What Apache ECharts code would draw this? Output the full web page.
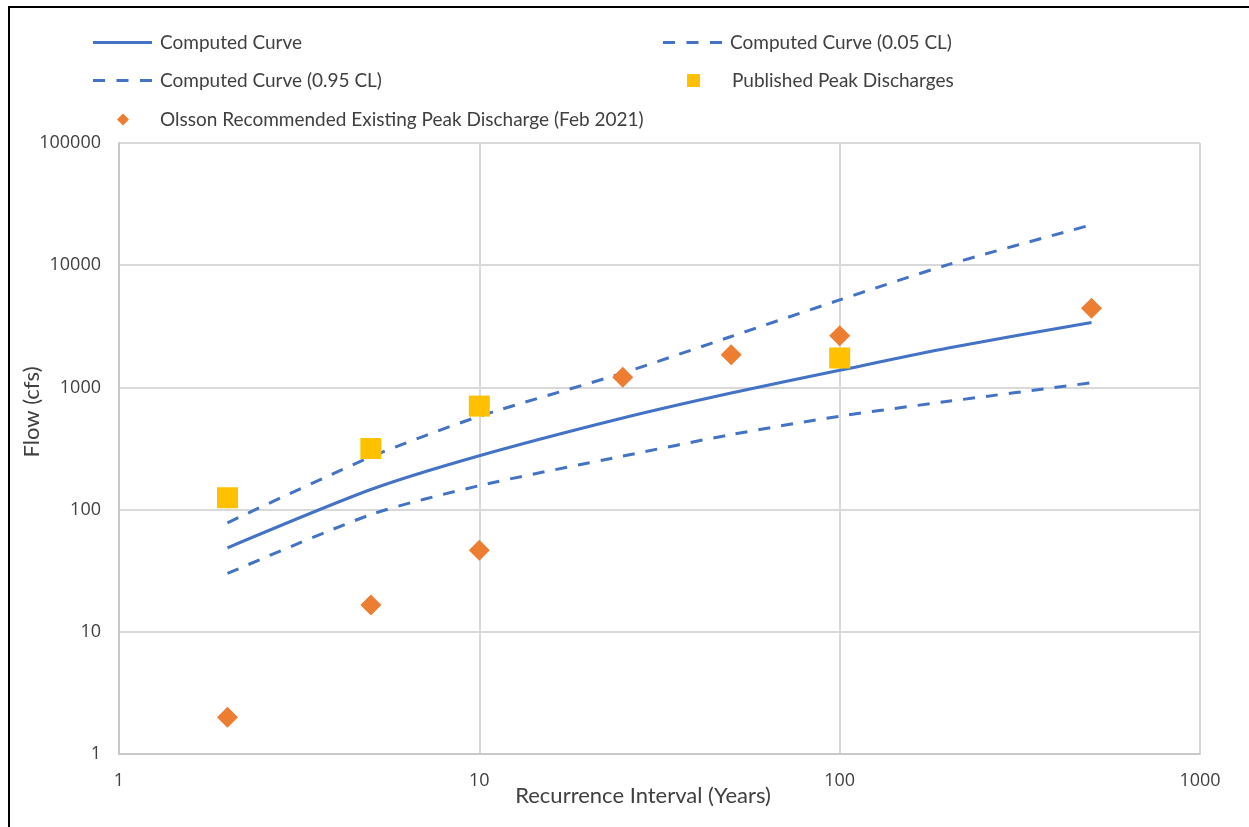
<!DOCTYPE html>
<html>
<head>
<meta charset="utf-8">
<script src="https://cdn.jsdelivr.net/npm/echarts@6/dist/echarts.min.js"></script>
<style>
html,body{margin:0;padding:0;background:#fff;}
#wrap{position:relative;width:1249px;height:827px;overflow:hidden;}
#frame{position:absolute;left:8px;top:6px;width:1260px;height:840px;border-left:2px solid #000;border-top:2px solid #000;pointer-events:none;z-index:2;}
#chart{position:absolute;left:0;top:0;width:1249px;height:827px;}
</style>
</head>
<body>
<div id="wrap"><div id="chart"></div><div id="frame"></div></div>
<script>
// Recurrence intervals (years) for the computed curves
const years = [2, 5, 10, 25, 50, 100, 200, 500];
const computedCurve = [48.7, 146, 276, 562, 900, 1380, 2100, 3400];
const curve005 = [78, 270, 580, 1310, 2610, 5200, 10100, 21400];
const curve095 = [30, 91, 157, 274, 411, 581, 769, 1090];
// Published peak discharges
const publishedYears = [2, 5, 10, 100];
const publishedFlow = [125, 316, 703, 1740];
// Olsson recommended existing peak discharge (Feb 2021)
const olssonYears = [2, 5, 10, 25, 50, 100, 500];
const olssonFlow = [2, 16.6, 46.4, 1210, 1850, 2650, 4450];
// Axis ranges and titles
const xRange = [1, 1000];
const yRange = [1, 100000];
const xTitle = 'Recurrence Interval (Years)';
const yTitle = 'Flow (cfs)';
const seriesNames = ['Computed Curve', 'Computed Curve (0.05 CL)', 'Computed Curve (0.95 CL)', 'Published Peak Discharges', 'Olsson Recommended Existing Peak Discharge (Feb 2021)'];

const pair = (xs, ys) => xs.map((x, i) => [x, ys[i]]);
const FONT = 'Lato';
const BLUE = '#4472C4';
const TXT = '#404040';
const ICON_SOLID = 'path://M0,0H59V3H0Z';
const ICON_DASH = 'path://M0,0H12V3H0Z M23.5,0H35.5V3H23.5Z M47,0H59V3H47Z';
function leg(name, icon, left, top, w, h, pad) {
  return {data: [{name: name, icon: icon}], left: left, top: top, itemWidth: w, itemHeight: h,
    itemGap: 0, padding: 0, symbolKeepAspect: true, selectedMode: false,
    textStyle: {color: TXT, fontSize: 19, fontFamily: FONT, padding: [0, 0, 0, pad]}};
}

const chart = echarts.init(document.getElementById('chart'), null, {renderer: 'canvas'});
chart.setOption({
  animation: false,
  backgroundColor: '#fff',
  legend: [
    leg(seriesNames[0], ICON_SOLID, 93, 33, 59, 18, 3),
    leg(seriesNames[1], ICON_DASH, 663, 33, 59, 18, 3),
    leg(seriesNames[2], ICON_DASH, 93, 71, 59, 18, 3),
    leg(seriesNames[3], 'rect', 687, 71, 13, 13, 27),
    leg(seriesNames[4], 'diamond', 117, 110, 12, 12, 26)
  ],
  graphic: [
    {type: 'text', x: 643, y: 796, silent: true,
      style: {text: xTitle, fill: TXT, font: '22px Lato', textAlign: 'center', textVerticalAlign: 'middle'}},
    {type: 'text', x: 32, y: 412, rotation: Math.PI / 2, silent: true,
      style: {text: yTitle, fill: TXT, font: '22px Lato', textAlign: 'center', textVerticalAlign: 'middle'}}
  ],
  grid: {left: 119, top: 143, width: 1081, height: 611, containLabel: false},
  xAxis: {
    type: 'log', logBase: 10, min: xRange[0], max: xRange[1],
    axisLine: {show: true, lineStyle: {color: '#c8c8c8', width: 2}},
    axisTick: {show: false},
    axisLabel: {color: TXT, fontSize: 18, fontFamily: 'Open Sans', margin: 18,
      formatter: v => String(Math.round(v))},
    splitLine: {show: true, lineStyle: {color: '#d9d9d9', width: 2}}
  },
  yAxis: {
    type: 'log', logBase: 10, min: yRange[0], max: yRange[1],
    axisLine: {show: true, lineStyle: {color: '#c8c8c8', width: 2}},
    axisTick: {show: false},
    axisLabel: {color: TXT, fontSize: 18, fontFamily: 'Open Sans', margin: 18,
      formatter: v => String(Math.round(v))},
    splitLine: {show: true, lineStyle: {color: '#d9d9d9', width: 2}}
  },
  series: [
    {name: seriesNames[0], type: 'line', data: pair(years, computedCurve), smooth: 0.25,
      showSymbol: false, symbol: 'none', lineStyle: {color: BLUE, width: 3}, itemStyle: {color: BLUE}},
    {name: seriesNames[1], type: 'line', data: pair(years, curve005), smooth: 0.25,
      showSymbol: false, symbol: 'none', lineStyle: {color: BLUE, width: 3, type: [12, 11]}, itemStyle: {color: BLUE}},
    {name: seriesNames[2], type: 'line', data: pair(years, curve095), smooth: 0.25,
      showSymbol: false, symbol: 'none', lineStyle: {color: BLUE, width: 3, type: [12, 11]}, itemStyle: {color: BLUE}},
    {name: seriesNames[3], type: 'scatter', data: pair(publishedYears, publishedFlow),
      symbol: 'rect', symbolSize: 21, itemStyle: {color: '#FFC000', opacity: 1}, z: 3},
    {name: seriesNames[4], type: 'scatter', data: pair(olssonYears, olssonFlow),
      symbol: 'diamond', symbolSize: 21, itemStyle: {color: '#ED7D31', opacity: 1}, z: 4}
  ]
});
</script>
</body>
</html>
